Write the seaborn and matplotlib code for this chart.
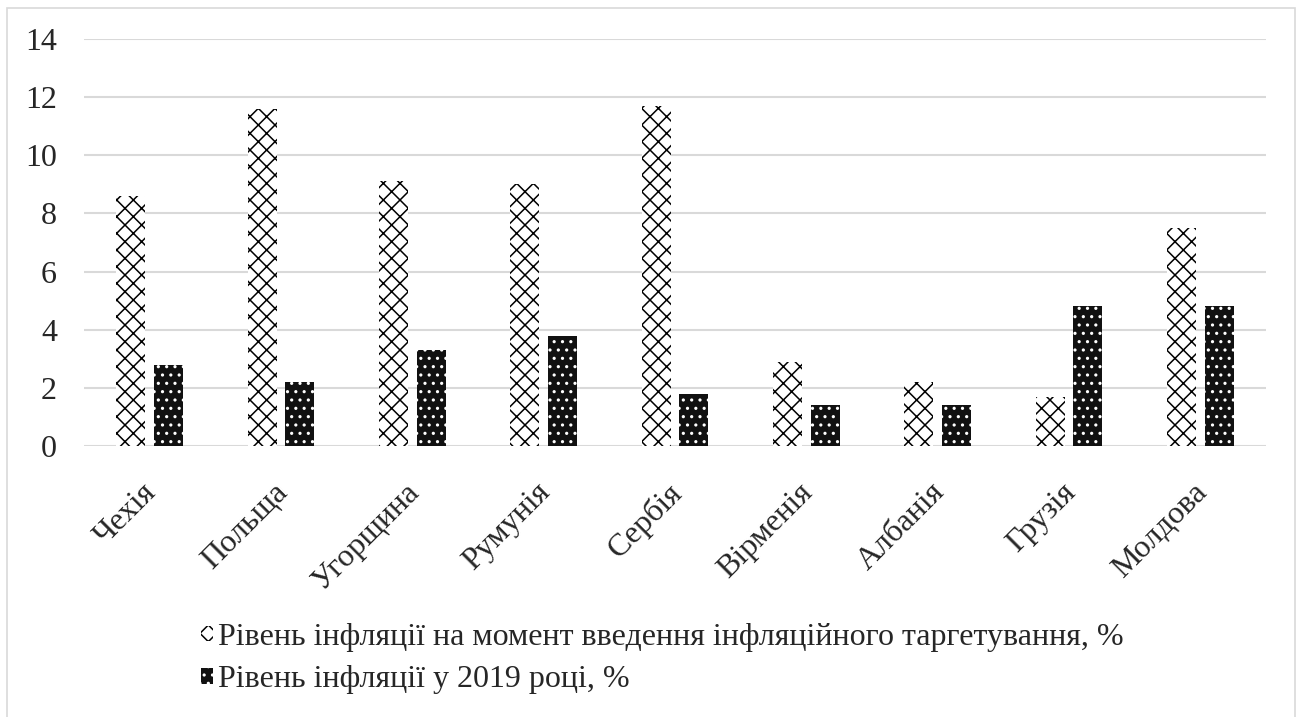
import matplotlib
matplotlib.use("Agg")
import matplotlib.pyplot as plt
import matplotlib.transforms as mtransforms
from matplotlib.patches import Patch, Rectangle
import pandas as pd
import seaborn as sns

# Data
countries = ["Чехія", "Польща", "Угорщина", "Румунія", "Сербія",
             "Вірменія", "Албанія", "Грузія", "Молдова"]
series_names = [
    "Рівень інфляції на момент введення інфляційного таргетування, %",
    "Рівень інфляції у 2019 році, %",
]
infl_at_start = [8.6, 11.6, 9.1, 9.0, 11.7, 2.9, 2.2, 1.7, 7.5]
infl_2019 = [2.8, 2.2, 3.3, 3.8, 1.8, 1.4, 1.4, 4.8, 4.8]
y_ticks = [0, 2, 4, 6, 8, 10, 12, 14]

df = pd.DataFrame({
    "country": countries * 2,
    "value": infl_at_start + infl_2019,
    "series": [series_names[0]] * len(countries) + [series_names[1]] * len(countries),
})

sns.set_style("white")
plt.rcParams["font.family"] = ["Liberation Serif", "DejaVu Serif"]
plt.rcParams["hatch.linewidth"] = 1.1

fig = plt.figure(figsize=(12.98, 7.17), dpi=100)
ax = fig.add_axes([84 / 1298, 1 - 446 / 717, 1182 / 1298, 407 / 717])

# outer chart border
fig.patches.append(Rectangle((7 / 1298, -0.05), 1288 / 1298, 1 - 8 / 717 + 0.05,
                             transform=fig.transFigure, fill=False,
                             edgecolor="#d9d9d9", linewidth=1.2))

sns.barplot(data=df, x="country", y="value", hue="series",
            palette=["white", "#111111"], saturation=1, errorbar=None,
            width=0.57, gap=0.225, legend=False, ax=ax)

hatches = ["xx", ".."]
edge_cols = ["black", "white"]
for cont, h, ec in zip(ax.containers, hatches, edge_cols):
    for bar in cont:
        bar.set_hatch(h)
        bar.set_edgecolor(ec)
        bar.set_linewidth(0)

ax.set_ylim(0, 14)
ax.set_xlim(-0.5, len(countries) - 0.5)
ax.set_yticks(y_ticks)
ax.set_xlabel("")
ax.set_ylabel("")
ax.yaxis.grid(True, color="#d9d9d9", linewidth=1.5)
ax.set_axisbelow(True)
for s in ax.spines.values():
    s.set_visible(False)

ax.tick_params(axis="y", length=0, pad=19.5, labelsize=23)
ax.tick_params(axis="x", length=0, pad=23, labelsize=23)
offset = mtransforms.ScaledTranslation(-0.08, 0, fig.dpi_scale_trans)
for lbl in ax.get_xticklabels():
    lbl.set_rotation(45)
    lbl.set_ha("right")
    lbl.set_rotation_mode("anchor")
    lbl.set_transform(lbl.get_transform() + offset)

handles = [
    Patch(facecolor="white", edgecolor="black", hatch="xx", linewidth=0),
    Patch(facecolor="#111111", edgecolor="white", hatch="..", linewidth=0),
]
fig.legend(handles, series_names, loc="upper left",
           bbox_to_anchor=(201 / 1298, 1 - 623 / 717), frameon=False,
           fontsize=23, handlelength=0.36, handleheight=0.36, handletextpad=0.18,
           labelspacing=0.42, borderpad=0, borderaxespad=0)

fig.savefig("out.png", dpi=100)
